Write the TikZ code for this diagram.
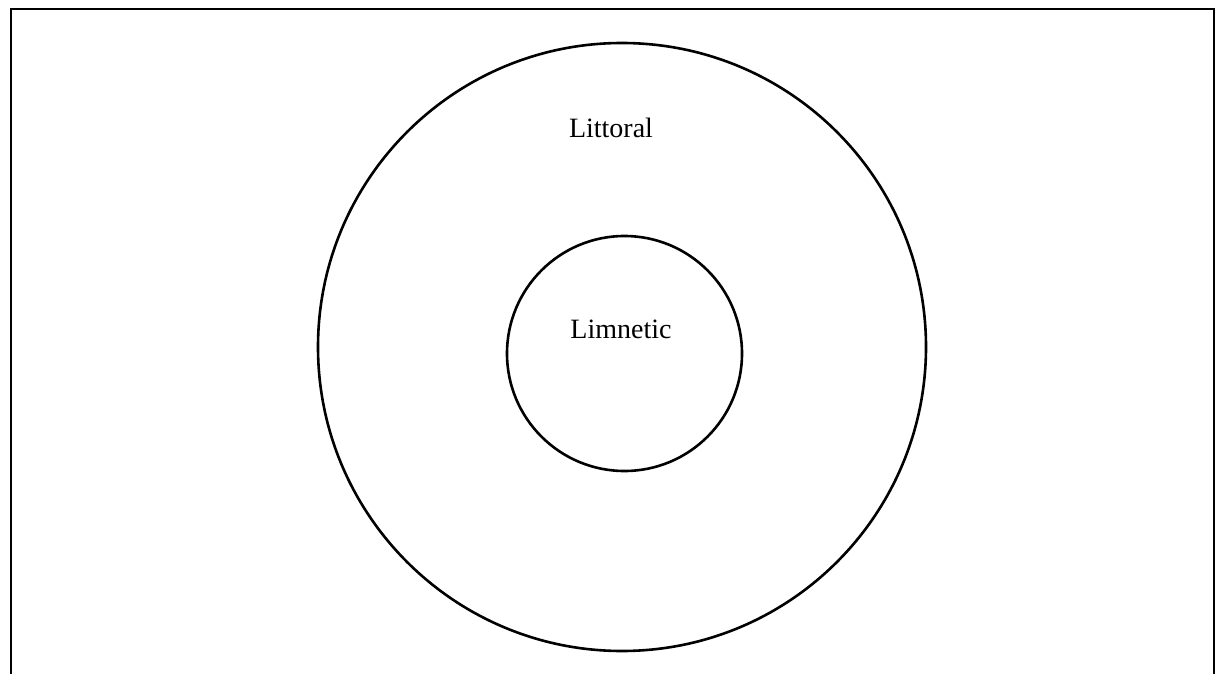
\documentclass[tikz,border=0pt]{standalone}
\usepackage{fontspec}
\setmainfont{Liberation Serif}
\usetikzlibrary{positioning}

\begin{document}
\begin{tikzpicture}[
    x=0.5pt,
    y=-0.5pt,
    zone/.style={
        draw,
        circle,
        line width=1.3pt,
        inner sep=0pt
    },
    zonelabel/.style={
        anchor=base,
        font=\fontsize{14}{16}\selectfont
    },
    frame/.style={
        draw,
        line width=1pt
    }
]

\useasboundingbox (0,0) rectangle (1216,674);

\draw[frame] (11,690) -- (11,9) -- (1214,9) -- (1214,690);

\node[zone, minimum size=304pt] (littoral) at (622,347) {};
\node[zone, minimum size=117.5pt] (limnetic) at (624.5,353.5) {};

\node[zonelabel] (littoraltext) at (611,137.5) {Littoral};
\node[zonelabel] (limnetictext) at (621,338.5) {Limnetic};

\end{tikzpicture}
\end{document}
